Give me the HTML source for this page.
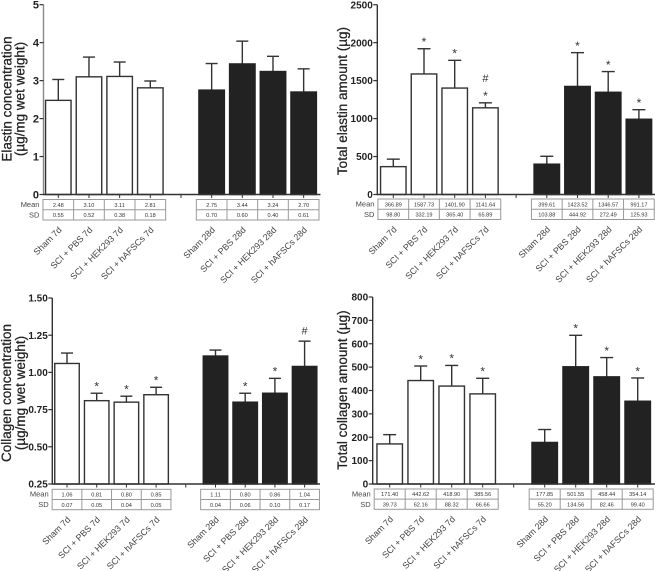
<!DOCTYPE html>
<html lang="en">
<head>
<meta charset="utf-8">
<title>Elastin and collagen charts</title>
<style>
html,body{margin:0;padding:0;background:#fff;width:656px;height:571px;overflow:hidden}
svg{display:block;filter:blur(.3px);font-family:"Liberation Sans",sans-serif}
</style>
</head>
<body>
<svg id="figure" width="656" height="571" viewBox="0 0 656 571" xmlns="http://www.w3.org/2000/svg"></svg>
<script>
// Shared categories (index 4 is the empty slot between the two time points)
const categories = ['Sham 7d','SCI + PBS 7d','SCI + HEK293 7d','SCI + hAFSCs 7d','','Sham 28d','SCI + PBS 28d','SCI + HEK293 28d','SCI + hAFSCs 28d'];

// Elastin concentration
const elastinConcMean = [2.48,3.10,3.11,2.81,null,2.75,3.44,3.24,2.70];
const elastinConcSd = [0.55,0.52,0.38,0.18,null,0.70,0.60,0.40,0.61];
const elastinConcMarks = ['','','','','','','','',''];
const elastinConcTicks = [0,1,2,3,4,5];

// Total elastin amount
const elastinAmountMean = [366.89,1587.73,1401.90,1141.64,null,399.61,1423.52,1346.57,991.17];
const elastinAmountSd = [98.80,332.19,365.40,65.89,null,103.88,444.92,272.49,125.93];
const elastinAmountMarks = ['','*','*','*#','','','*','*','*'];
const elastinAmountTicks = [0,500,1000,1500,2000,2500];

// Collagen concentration
const collagenConcMean = [1.06,0.81,0.80,0.85,null,1.11,0.80,0.86,1.04];
const collagenConcSd = [0.07,0.05,0.04,0.05,null,0.04,0.06,0.10,0.17];
const collagenConcMarks = ['','*','*','*','','','*','*','#'];
const collagenConcTicks = [0.25,0.50,0.75,1.00,1.25,1.50];

// Total collagen amount
const collagenAmountMean = [171.40,442.62,418.90,385.56,null,177.85,501.55,458.44,354.14];
const collagenAmountSd = [39.73,62.16,88.32,66.66,null,55.20,134.56,82.46,99.40];
const collagenAmountMarks = ['','*','*','*','','','*','*','*'];
const collagenAmountTicks = [0,100,200,300,400,500,600,700,800];

const svg = document.getElementById('figure');
const NS = 'http://www.w3.org/2000/svg';
const AXIS = '#333';

function make(tag, attrs, parent, text) {
  const node = document.createElementNS(NS, tag);
  for (const key in attrs) node.setAttribute(key, attrs[key]);
  if (text !== undefined) node.textContent = text;
  parent.appendChild(node);
  return node;
}

function drawPanel(p) {
  const g = make('g', {}, svg);
  
  

  const min = p.ticks[0];
  const max = p.ticks[p.ticks.length - 1];
  const yScale = v => p.y0 - (v - min) / (max - min) * (p.y0 - p.top);
  const xScale = i => p.first + p.step * i;

  // y axis title
  p.title.forEach((line, i) => {
    const tx = p.titleX[i];
    const t = make('text', {x: tx, y: p.titleY, 'text-anchor': 'middle', 'font-size': p.titleSize, fill: '#222',
      stroke: '#222', 'stroke-width': .25,
      transform: 'rotate(-90 ' + tx + ' ' + p.titleY + ')'}, g, line);
    
    
  });

  // bars and error bars
  categories.forEach((cat, i) => {
    if (p.mean[i] === null) return;
    const cx = xScale(i);
    const top = yScale(p.mean[i]);
    const errTop = yScale(p.mean[i] + p.sd[i]);
    const stem = make('line', {x1: cx, x2: cx, y1: top, y2: errTop, stroke: AXIS, 'stroke-width': 1.4}, g);
    
    
    const cap = make('line', {x1: cx - p.cap / 2, x2: cx + p.cap / 2, y1: errTop, y2: errTop, stroke: AXIS, 'stroke-width': 1.4}, g);
    
    
    const bar = make('rect', {x: cx - p.barW / 2, y: top, width: p.barW, height: p.y0 - top,
      fill: i < 4 ? '#fff' : '#222', stroke: i < 4 ? AXIS : '#222', 'stroke-width': 1.4}, g);
    
    

    // significance marks stacked above the error bar
    [...p.marks[i]].forEach((m, k) => {
      const isHash = m === '#';
      const my = errTop - (isHash ? (k === 0 ? 6.5 : 21) : 2.7);
      const mark = make('text', {x: cx, y: my, 'text-anchor': 'middle',
        'font-size': isHash ? 11 : 12, fill: '#333'}, g, m);
      
      
    });
  });

  // axes
  const yAxis = make('line', {x1: p.axisX, x2: p.axisX, y1: p.top, y2: p.y0 + .7, stroke: p.yAxisColor, 'stroke-width': 1.4}, g);
  
  
  const xAxis = make('line', {x1: p.axisX, x2: p.axisEnd, y1: p.y0, y2: p.y0, stroke: AXIS, 'stroke-width': 1.4}, g);
  
  

  // y ticks
  p.ticks.forEach(v => {
    const y = yScale(v);
    const tick = make('line', {x1: p.axisX - 4, x2: p.axisX, y1: y, y2: y, stroke: AXIS, 'stroke-width': 1.2}, g);
    
    
    const label = make('text', {x: p.axisX - 4.5, y: y + p.tickSize * .36, 'text-anchor': 'end', 'font-size': p.tickSize,
      'font-weight': 'bold', fill: '#222'}, g, v.toFixed(p.decimals));
    
    
  });

  // x ticks
  categories.forEach((cat, i) => {
    const cx = xScale(i);
    const tick = make('line', {x1: cx, x2: cx, y1: p.y0, y2: p.y0 + 3.5, stroke: AXIS, 'stroke-width': 1}, g);
    
    
  });

  // data tables
  [[0, 3], [5, 8]].forEach(range => {
    const left = xScale(range[0]) - p.step / 2;
    const right = xScale(range[1]) + p.step / 2;
    const frame = make('rect', {x: left, y: p.tableTop, width: right - left, height: p.tableBottom - p.tableTop,
      fill: 'none', stroke: '#999', 'stroke-width': 1}, g);
    
    
    const mid = (p.tableTop + p.tableBottom) / 2;
    const rule = make('line', {x1: left, x2: right, y1: mid, y2: mid, stroke: '#999', 'stroke-width': 1}, g);
    
    
    for (let i = range[0]; i <= range[1]; i++) {
      if (i > range[0]) {
        const sep = make('line', {x1: xScale(i) - p.step / 2, x2: xScale(i) - p.step / 2, y1: p.tableTop, y2: p.tableBottom, stroke: '#999', 'stroke-width': 1}, g);
        
        
      }
      const meanCell = make('text', {x: xScale(i), y: mid - 3, 'text-anchor': 'middle', 'font-size': 5.6, fill: '#333'}, g, p.mean[i].toFixed(2));
      
      
      const sdCell = make('text', {x: xScale(i), y: mid + 7.3, 'text-anchor': 'middle', 'font-size': 5.6, fill: '#333'}, g, p.sd[i].toFixed(2));
      
      
    }
    if (range[0] === 0) {
      const labelX = left - 3.5;
      const meanLabel = make('text', {x: labelX, y: mid - 2.8, 'text-anchor': 'end', 'font-size': 7.5, fill: '#444'}, g, 'Mean');
      
      
      const sdLabel = make('text', {x: labelX, y: mid + 7.7, 'text-anchor': 'end', 'font-size': 7.5, fill: '#444'}, g, 'SD');
      
      
    }
  });

  // rotated category labels
  categories.forEach((cat, i) => {
    if (!cat) return;
    const lx = xScale(i) + 4;
    const ly = p.tableBottom + 10.5;
    const label = make('text', {x: lx, y: ly, 'text-anchor': 'end', 'font-size': 8.9, fill: '#444',
      transform: 'rotate(-45 ' + lx + ' ' + ly + ')'}, g, cat);
    
    
  });
}

drawPanel({name:'elastin-concentration-chart', mean:elastinConcMean, sd:elastinConcSd, marks:elastinConcMarks, ticks:elastinConcTicks, decimals:0,
  axisX:43.5, axisEnd:320.5, y0:194.5, top:4.7, first:58.3, step:30.67, barW:25.5, cap:12,
  tableTop:199.5, tableBottom:220, tickSize:11, yAxisColor:'#888',
  title:['Elastin concentration','(µg/mg wet weight)'], titleX:[11.5,24.5], titleY:99, titleSize:13.5});

drawPanel({name:'total-elastin-chart', mean:elastinAmountMean, sd:elastinAmountSd, marks:elastinAmountMarks, ticks:elastinAmountTicks, decimals:0,
  axisX:377.3, axisEnd:655, y0:194.5, top:4.7, first:393.3, step:30.7, barW:25.5, cap:13,
  tableTop:199, tableBottom:219.5, tickSize:10, yAxisColor:AXIS,
  title:['Total elastin amount (µg)'], titleX:[347], titleY:101, titleSize:13.5});

drawPanel({name:'collagen-concentration-chart', mean:collagenConcMean, sd:collagenConcSd, marks:collagenConcMarks, ticks:collagenConcTicks, decimals:2,
  axisX:52.3, axisEnd:320, y0:484, top:298, first:67, step:29.7, barW:24.5, cap:12,
  tableTop:489.3, tableBottom:509.7, tickSize:10, yAxisColor:AXIS,
  title:['Collagen concentration','(µg/mg wet weight)'], titleX:[11,25], titleY:393, titleSize:13.5});

drawPanel({name:'total-collagen-chart', mean:collagenAmountMean, sd:collagenAmountSd, marks:collagenAmountMarks, ticks:collagenAmountTicks, decimals:0,
  axisX:372.7, axisEnd:655, y0:484, top:297, first:389.7, step:31, barW:25.5, cap:13,
  tableTop:489, tableBottom:509.3, tickSize:10, yAxisColor:AXIS,
  title:['Total collagen amount (µg)'], titleX:[347], titleY:390, titleSize:13.5});
</script>
</body>
</html>
